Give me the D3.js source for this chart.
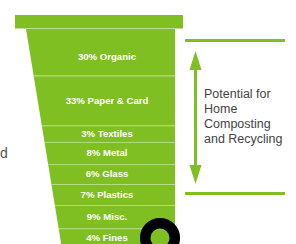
<!DOCTYPE html>
<html>
<head>
<meta charset="utf-8">
<script src="https://cdn.jsdelivr.net/npm/d3@7"></script>
<style>
  body { margin: 0; background: #fff; }
  svg { display: block; }
</style>
</head>
<body>
<svg id="bin" width="296" height="244"></svg>
<script>
// waste composition, top of bin to bottom
const labels = ["Organic", "Paper & Card", "Textiles", "Metal", "Glass", "Plastics", "Misc.", "Fines"];
const shares = [30, 33, 3, 8, 6, 7, 9, 4];
const noteLines = ["Potential for", "Home", "Composting", "and Recycling"];

const green = "#7fbf22";
const svg = d3.select("#bin");

// rows get a fixed minimum height plus their share
const pad = 12;
const weights = shares.map(s => s + pad);
const cum = [0];
weights.forEach(w => cum.push(cum[cum.length - 1] + w));

const y = d3.scaleLinear().domain([0, cum[cum.length - 1]]).range([29, 246]);
const xLeft = d3.scaleLinear().domain([29, 246]).range([26, 61.5]);
const xRight = 175;

const rows = labels.map((l, i) => ({label: shares[i] + "% " + l, y0: y(cum[i]), y1: y(cum[i + 1])}));

// body segments
svg.selectAll("path.seg")
  .data(rows)
  .enter().append("path")
  .attr("class", "seg")
  .attr("fill", green)
  .attr("d", d => `M${xLeft(d.y0)},${d.y0}L${xRight},${d.y0}L${xRight},${d.y1}L${xLeft(d.y1)},${d.y1}Z`);

// divider lines
svg.selectAll("line.div")
  .data(rows.slice(1))
  .enter().append("line")
  .attr("class", "div")
  .attr("x1", d => xLeft(d.y0))
  .attr("x2", xRight)
  .attr("y1", d => d.y0 + 0.5)
  .attr("y2", d => d.y0 + 0.5)
  .attr("stroke", "#b5dc80")
  .attr("stroke-width", 1);

// rim
svg.append("rect")
  .attr("x", 15).attr("y", 15)
  .attr("width", 168).attr("height", 13.5)
  .attr("fill", green);

svg.selectAll("text.lab")
  .data(rows)
  .enter().append("text")
  .attr("class", "lab")
  .attr("x", 107)
  .attr("y", (d, i) => (d.y0 + d.y1) / 2 + (i === 0 ? 4 : 0))
  .attr("dy", "0.35em")
  .attr("text-anchor", "middle")
  .attr("fill", "#fff")
  .attr("font-family", "Liberation Sans, Arial, sans-serif")
  .attr("font-weight", "bold")
  .attr("font-size", 9.6)
  .text(d => d.label);

// bracket with double arrow
const ax = 195.5;
svg.append("rect").attr("x", 185).attr("y", 39).attr("width", 100).attr("height", 3).attr("fill", green);
svg.append("rect").attr("x", 185).attr("y", 192).attr("width", 100).attr("height", 3).attr("fill", green);
svg.append("line")
  .attr("x1", ax).attr("x2", ax).attr("y1", 66).attr("y2", 168)
  .attr("stroke", green).attr("stroke-width", 3);
svg.append("path").attr("fill", green)
  .attr("d", `M${ax},51L${ax + 6},70L${ax - 6},70Z`);
svg.append("path").attr("fill", green)
  .attr("d", `M${ax},184L${ax + 6},165L${ax - 6},165Z`);

svg.append("text")
  .attr("x", 204)
  .attr("font-family", "Liberation Sans, Arial, sans-serif")
  .attr("font-size", 12.5)
  .attr("fill", "#444")
  .selectAll("tspan")
  .data(noteLines)
  .enter().append("tspan")
  .attr("x", 204)
  .attr("y", (d, i) => 98 + i * 15)
  .text(d => d);

// the last letter of a word that runs off the left edge
svg.append("text")
  .attr("x", 0).attr("y", 158)
  .attr("font-family", "Liberation Sans, Arial, sans-serif")
  .attr("font-size", 14)
  .attr("fill", "#555")
  .text("d");

// wheel
svg.append("circle")
  .attr("cx", 160).attr("cy", 238).attr("r", 14.8)
  .attr("fill", "none")
  .attr("stroke", "#000")
  .attr("stroke-width", 10.5);
</script>
</body>
</html>
